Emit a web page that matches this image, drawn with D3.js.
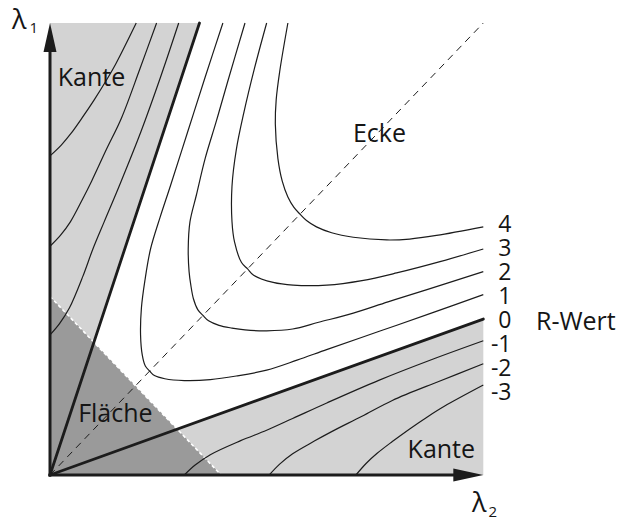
<!DOCTYPE html>
<html>
<head>
<meta charset="utf-8">
<script src="https://cdn.jsdelivr.net/npm/d3@7"></script>
<style>
  body { margin: 0; background: #fff; }
  svg { display: block; }
  text { font-family: "Open Sans", sans-serif; fill: #151515; }
</style>
</head>
<body>
<svg id="chart" width="626" height="520"></svg>
<script>
// Harris response R over the eigenvalue plane (λ2 horizontal, λ1 vertical)
const levels = [4, 3, 2, 1, 0, -1, -2, -3];
const levelLabels = ["4", "3", "2", "1", "0", "-1", "-2", "-3"];
const edgeRatio = 0.345;   // λ1/λ2 along the R = 0 boundary lines
const flatSum = 0.395;     // λ1 + λ2 below which the region is "Fläche"

// One branch of each iso-line as [λ2, λ1]; the other branch is its mirror about λ1 = λ2
const contour4 = [[0.577, 0.577], [0.592, 0.563], [0.615, 0.549], [0.65, 0.536], [0.70, 0.526],
                  [0.777, 0.520], [0.83, 0.522], [0.892, 0.530], [1.0, 0.549]];
const contour3 = [[0.456, 0.456], [0.47, 0.442], [0.515, 0.426], [0.561, 0.420], [0.639, 0.420],
                  [0.72, 0.430], [0.80, 0.447], [0.90, 0.472], [1.0, 0.500]];
const contour2 = [[0.353, 0.353], [0.366, 0.341], [0.39, 0.331], [0.42, 0.325], [0.45, 0.321],
                  [0.50, 0.319], [0.56, 0.323], [0.62, 0.338], [0.70, 0.358], [0.78, 0.383],
                  [0.87, 0.410], [1.0, 0.450]];
const contour1 = [[0.230, 0.230], [0.241, 0.220], [0.265, 0.213], [0.31, 0.209], [0.37, 0.211],
                  [0.43, 0.219], [0.50, 0.232], [0.57, 0.254], [0.64, 0.278], [0.76, 0.318],
                  [0.88, 0.358], [1.0, 0.399]];
const contourN1 = [[0.31, 0.0], [0.335, 0.022], [0.37, 0.045], [0.44, 0.076], [0.50, 0.099],
                   [0.56, 0.125], [0.64, 0.160], [0.76, 0.210], [0.88, 0.255], [1.0, 0.297]];
const contourN2 = [[0.506, 0.0], [0.53, 0.024], [0.56, 0.047], [0.61, 0.075], [0.65, 0.096],
                   [0.72, 0.130], [0.79, 0.165], [0.90, 0.208], [1.0, 0.246]];
const contourN3 = [[0.706, 0.0], [0.73, 0.026], [0.755, 0.048], [0.79, 0.074], [0.83, 0.102],
                   [0.87, 0.128], [0.91, 0.152], [1.0, 0.199]];

const svg = d3.select("#chart");
const x = d3.scaleLinear().domain([0, 1]).range([50, 483.3]);
const y = d3.scaleLinear().domain([0, 1]).range([475, 23]);

const ink = "#1c1c1c";
const lightGray = "#d3d3d3";
const darkGray = "#9a9a9a";

const poly = pts => "M" + pts.map(p => x(p[0]) + "," + y(p[1])).join("L") + "Z";
const mirror = p => [p[1], p[0]];

// Edge wedges (R < 0)
svg.append("path").attr("d", poly([[0, 0], [0, 1], [edgeRatio, 1]])).attr("fill", lightGray);
svg.append("path").attr("d", poly([[0, 0], [1, 0], [1, edgeRatio]])).attr("fill", lightGray);

// Flat region near the origin
svg.append("path").attr("d", poly([[0, 0], [0, flatSum], [flatSum, 0]])).attr("fill", darkGray);
svg.append("line")
  .attr("x1", x(0)).attr("y1", y(flatSum)).attr("x2", x(flatSum)).attr("y2", y(0))
  .attr("stroke", "#fff").attr("stroke-width", 1.6).attr("stroke-dasharray", "3.5,2.5");

// Diagonal λ1 = λ2
svg.append("line")
  .attr("x1", x(0)).attr("y1", y(0)).attr("x2", x(1)).attr("y2", y(1))
  .attr("stroke", ink).attr("stroke-width", 1).attr("stroke-dasharray", "7,5.5");

// Iso-lines of R
const line = d3.line().x(d => x(d[0])).y(d => y(d[1])).curve(d3.curveCatmullRom.alpha(0.5));
const cornerBranches = [contour4, contour3, contour2, contour1];
const edgeBranches = [contourN1, contourN2, contourN3];

cornerBranches.forEach(branch => {
  const full = branch.slice(1).map(mirror).reverse().concat(branch);
  svg.append("path").attr("d", line(full))
    .attr("fill", "none").attr("stroke", ink).attr("stroke-width", 1.2);
});
edgeBranches.forEach(branch => {
  svg.append("path").attr("d", line(branch))
    .attr("fill", "none").attr("stroke", ink).attr("stroke-width", 1.2);
  svg.append("path").attr("d", line(branch.map(mirror)))
    .attr("fill", "none").attr("stroke", ink).attr("stroke-width", 1.2);
});

// R = 0 boundaries
[[edgeRatio, 1], [1, edgeRatio]].forEach(end => {
  svg.append("line")
    .attr("x1", x(0)).attr("y1", y(0)).attr("x2", x(end[0])).attr("y2", y(end[1]))
    .attr("stroke", ink).attr("stroke-width", 2.8).attr("stroke-linecap", "round");
});

// Axes without ticks, ending in arrow heads
const yAxis = svg.append("g").attr("transform", `translate(${x(0)},0)`)
  .call(d3.axisLeft(y).tickValues([]).tickSizeOuter(0));
const xAxis = svg.append("g").attr("transform", `translate(0,${y(0)})`)
  .call(d3.axisBottom(x).tickValues([]).tickSizeOuter(0));
[yAxis, xAxis].forEach(g => g.select(".domain").attr("stroke", ink).attr("stroke-width", 3));
xAxis.select(".domain").attr("d", `M${x(0) - 1.5},0H${x(1) - 20}`);
yAxis.select(".domain").attr("d", `M0,${y(0) + 1.5}V${y(1) + 20}`);

svg.append("path")
  .attr("d", `M${x(0)},${y(1)}L${x(0) - 6.5},${y(1) + 29}L${x(0) + 6.5},${y(1) + 29}Z`)
  .attr("fill", ink);
svg.append("path")
  .attr("d", `M${x(1)},${y(0)}L${x(1) - 30},${y(0) - 6.5}L${x(1) - 30},${y(0) + 6.5}Z`)
  .attr("fill", ink);

// Axis titles
const lam1 = svg.append("text").attr("x", 12).attr("y", 29).style("font-size", "27px");
lam1.append("tspan").text("λ");
lam1.append("tspan").attr("dx", 3).attr("dy", 4).style("font-size", "15px").text("1");
const lam2 = svg.append("text").attr("x", 472).attr("y", 511.5).style("font-size", "27px");
lam2.append("tspan").text("λ");
lam2.append("tspan").attr("dx", 2).attr("dy", 5).style("font-size", "15px").text("2");

// Region names
const regionText = (txt, px, py, anchor) =>
  svg.append("text").attr("x", x(px)).attr("y", y(py))
    .attr("text-anchor", anchor).style("font-size", "25px").text(txt);
regionText("Kante", 0.018, 0.861, "start");
regionText("Ecke", 0.699, 0.737, "start");
regionText("Fläche", 0.065, 0.118, "start");
regionText("Kante", 0.981, 0.037, "end");

// Level labels down the right side
const labelY = d3.scalePoint().domain(levels).range([231.7, 399.7]);
svg.selectAll("text.level").data(levels).join("text")
  .attr("class", "level")
  .attr("x", 511.5).attr("y", d => labelY(d))
  .attr("text-anchor", "end").style("font-size", "23px")
  .text((d, i) => levelLabels[i]);
svg.append("text").attr("x", 536).attr("y", 330).style("font-size", "25px").text("R-Wert");
</script>
</body>
</html>
